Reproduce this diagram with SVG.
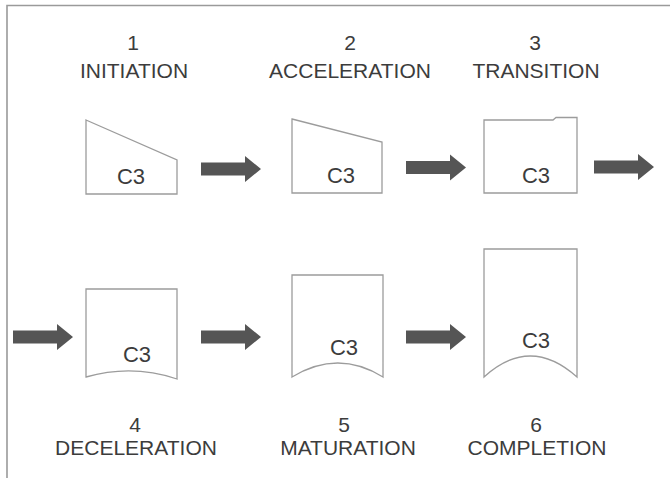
<svg xmlns="http://www.w3.org/2000/svg" width="670" height="478" viewBox="0 0 670 478">
<style>
.bg{fill:#ffffff}
.frame{fill:none;stroke:#9a9a9a;stroke-width:1.6}
.shape{fill:#ffffff;stroke:#9c9c9c;stroke-width:1.3}
.arrow{fill:#555555}
.lbl{font-family:"Liberation Sans",Arial,sans-serif;font-size:21px;fill:#3c3c3c;text-anchor:middle}
.c3{font-family:"Liberation Sans",Arial,sans-serif;font-size:22px;fill:#3c3c3c;text-anchor:middle}
</style>
<defs>
<path id="arr" d="M0,-6.5 H44 V-13 L60,0 L44,13 V6.5 H0 Z"/>
</defs>
<rect class="bg" x="0" y="0" width="670" height="478"/>
<path class="frame" d="M7,478 V5.5 H670"/>

<g id="stage1">
<text class="lbl" x="133" y="50">1</text>
<text class="lbl" x="134" y="78">INITIATION</text>
<polygon class="shape" points="86,120 177,160 177,194 86,194"/>
<text class="c3" x="131" y="184">C3</text>
</g>
<g id="stage2">
<text class="lbl" x="350" y="50">2</text>
<text class="lbl" x="350" y="78">ACCELERATION</text>
<polygon class="shape" points="292,119 382,142 382,193 292,193"/>
<text class="c3" x="341" y="183">C3</text>
</g>
<g id="stage3">
<text class="lbl" x="535" y="50">3</text>
<text class="lbl" x="536" y="78">TRANSITION</text>
<polygon class="shape" points="484,120 553,120 556,117.5 577,117.5 577,193 484,193"/>
<text class="c3" x="536" y="183">C3</text>
</g>
<g id="stage4">
<path class="shape" d="M86,289 H177 V379 Q132,364 86,377 Z"/>
<text class="c3" x="137" y="362">C3</text>
<text class="lbl" x="135" y="432">4</text>
<text class="lbl" x="136" y="455">DECELERATION</text>
</g>
<g id="stage5">
<path class="shape" d="M292,275 H383 V377 Q338,349 292,377 Z"/>
<text class="c3" x="344" y="355">C3</text>
<text class="lbl" x="344" y="432">5</text>
<text class="lbl" x="348" y="455">MATURATION</text>
</g>
<g id="stage6">
<path class="shape" d="M484,249 H577 V377 Q530,335 484,377 Z"/>
<text class="c3" x="536" y="348">C3</text>
<text class="lbl" x="536" y="432">6</text>
<text class="lbl" x="537" y="455">COMPLETION</text>
</g>

<g id="connectors">
<use href="#arr" class="arrow" transform="translate(201,169)"/>
<use href="#arr" class="arrow" transform="translate(406,167.5)"/>
<use href="#arr" class="arrow" transform="translate(594,167)"/>
<use href="#arr" class="arrow" transform="translate(13,337)"/>
<use href="#arr" class="arrow" transform="translate(201,337)"/>
<use href="#arr" class="arrow" transform="translate(406,337)"/>
</g>
</svg>
